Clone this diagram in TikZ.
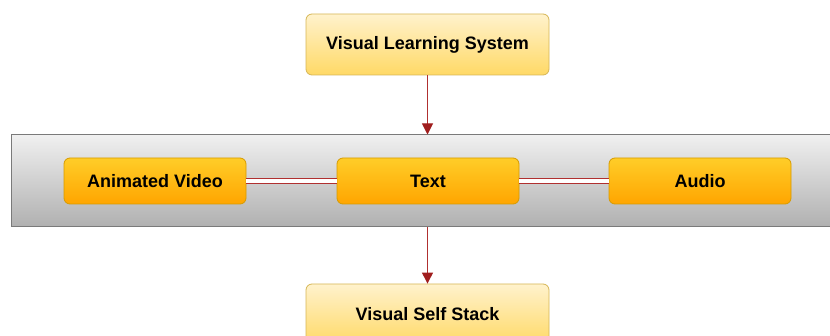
\documentclass[tikz,border=0pt]{standalone}
\usepackage{fontspec}
\setmainfont{Liberation Sans}
\usetikzlibrary{arrows.meta}
\definecolor{ltop}{HTML}{FFF2CC}
\definecolor{lbot}{HTML}{FFD966}
\definecolor{lbrd}{HTML}{D6B656}
\definecolor{otop}{HTML}{FFCD28}
\definecolor{obot}{HTML}{FFA500}
\definecolor{obrd}{HTML}{D79B00}
\definecolor{gtop}{HTML}{F0F0F0}
\definecolor{gbot}{HTML}{B0B0B0}
\definecolor{gbrd}{HTML}{7A7A7A}
\definecolor{arr}{HTML}{B03030}
\definecolor{arrh}{HTML}{A01E1E}
\begin{document}
\begin{tikzpicture}[x=1pt,y=-1pt,
  lightbox/.style={draw=lbrd,line width=0.8pt,rounded corners=6pt,top color=ltop,bottom color=lbot,minimum width=243pt,minimum height=61pt,font=\bfseries\fontsize{18}{21}\selectfont,inner sep=0pt},
  orbox/.style={draw=obrd,line width=0.8pt,rounded corners=6pt,top color=otop,bottom color=obot,minimum width=182pt,minimum height=46pt,font=\bfseries\fontsize{18}{21}\selectfont,inner sep=0pt},
  band/.style={draw=gbrd,line width=1pt,top color=gtop,bottom color=gbot,minimum width=830pt,minimum height=92pt,inner sep=0pt},
  conn/.style={draw=arr,line width=1pt,-{Triangle[length=11pt,width=11pt,color=arrh]}},
  dbl/.style={draw=arr,line width=1pt,double=white,double distance=4.5pt}
]
\useasboundingbox (0,0) rectangle (830,336);
\node[band] (bd) at (426,181) {};
\node[lightbox] (vls) at (427.5,44.5) {Visual Learning System};
\node[lightbox] (vss) at (427.5,314.5) {Visual Self Stack};
\node[orbox] (av) at (155,181) {Animated Video};
\node[orbox] (tx) at (428,181) {Text};
\node[orbox] (au) at (700,181) {Audio};
\draw[conn] (vls.south) -- (bd.north -| vls.south);
\draw[conn] (bd.south -| vss.north) -- (vss.north);
\draw[dbl] (av.east) -- (tx.west);
\draw[dbl] (tx.east) -- (au.west);
\end{tikzpicture}
\end{document}
